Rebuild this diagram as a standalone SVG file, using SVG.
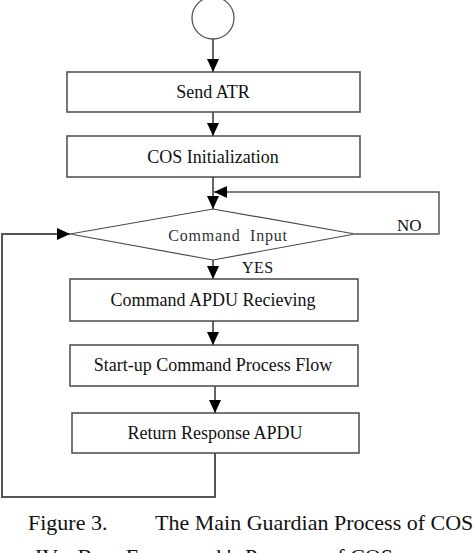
<svg xmlns="http://www.w3.org/2000/svg" width="474" height="553" viewBox="0 0 474 553">
<style>
.box{fill:#fff;stroke:#4a4a4a;stroke-width:1.5}
.lbl{font-family:"Liberation Serif","Times New Roman",serif;font-size:18px;fill:#111;text-anchor:middle}
.conn{fill:none;stroke:#333;stroke-width:1.5}
.cap{font-family:"Liberation Serif","Times New Roman",serif;font-size:22px;fill:#111}
</style>
<defs>
<marker id="ah" markerUnits="userSpaceOnUse" markerWidth="14" markerHeight="14" viewBox="0 0 14 14" refX="13" refY="7" orient="auto">
<path d="M0,1 L13,7 L0,13 Z" fill="#000"/>
</marker>
</defs>
<rect width="474" height="553" fill="#fff"/>
<g id="connectors">
<path class="conn" d="M213,39 V72" marker-end="url(#ah)"/>
<path class="conn" d="M213,112 V136" marker-end="url(#ah)"/>
<path class="conn" d="M213,177 V209" marker-end="url(#ah)"/>
<path class="conn" d="M213,260 V279" marker-end="url(#ah)"/>
<path class="conn" d="M213,321 V345" marker-end="url(#ah)"/>
<path class="conn" d="M215,386 V413" marker-end="url(#ah)"/>
<path class="conn" style="stroke:#555;stroke-width:2" d="M215,453 V497 H2 V234 H70" marker-end="url(#ah)"/>
<path class="conn" style="stroke:#555" d="M355,234 H439 V192 H214" marker-end="url(#ah)"/>
<text class="cap" style="font-size:17px" x="397" y="231">NO</text>
<text class="cap" style="font-size:16px;letter-spacing:0.5px" x="242" y="273">YES</text>
</g>
<g id="start">
<circle cx="213" cy="18" r="21" fill="#fff" stroke="#555" stroke-width="1.3"/>
</g>
<g id="send-atr">
<rect class="box" x="67" y="72" width="293" height="40"/>
<text class="lbl" x="213" y="98">Send ATR</text>
</g>
<g id="cos-init">
<rect class="box" x="67" y="136" width="293" height="41"/>
<text class="lbl" x="213" y="163">COS Initialization</text>
</g>
<g id="command-input">
<polygon class="box" points="213,209 355,234 213,260 70,234" style="stroke-width:1.2"/>
<text class="lbl" style="font-size:16px;letter-spacing:0.8px;fill:#333;white-space:pre" x="228" y="241">Command  Input</text>
</g>
<g id="apdu-recv">
<rect class="box" x="70" y="279" width="288" height="42"/>
<text class="lbl" x="213" y="306">Command APDU Recieving</text>
</g>
<g id="startup">
<rect class="box" x="70" y="345" width="288" height="41"/>
<text class="lbl" x="213" y="371">Start-up Command Process Flow</text>
</g>
<g id="return-resp">
<rect class="box" x="72" y="413" width="287" height="40"/>
<text class="lbl" x="215" y="439">Return Response APDU</text>
</g>
<g id="caption">
<text class="cap" x="28" y="530">Figure 3.</text>
<text class="cap" x="155" y="530">The Main Guardian Process of COS</text>
<text class="cap" x="35" y="564" style="white-space:pre">IV.   Base Framework's Program of COS</text>
</g>
</svg>
